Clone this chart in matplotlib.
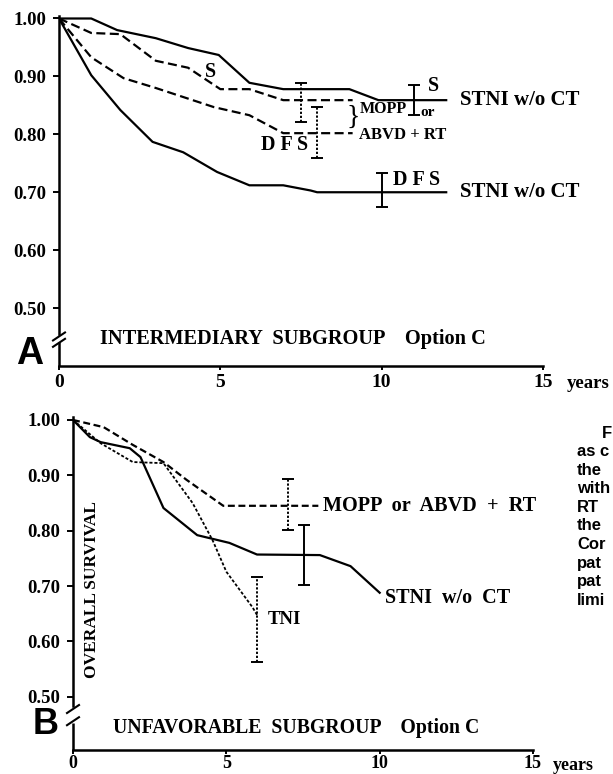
import matplotlib
matplotlib.use('Agg')
import matplotlib.pyplot as plt
from matplotlib.lines import Line2D
from matplotlib.transforms import IdentityTransform

plt.rcParams['lines.scale_dashes'] = False
SERIF = 'Liberation Serif'
SANS = 'Liberation Sans'

# ---------------- data: panel A (intermediary subgroup) ----------------
a_surv_stni_x = [0, 1.0, 1.8, 3.0, 4.0, 4.95, 5.9, 6.95, 9.0, 9.9, 12.0]
a_surv_stni_y = [1.00, 1.00, 0.980, 0.966, 0.949, 0.937, 0.889, 0.878, 0.878, 0.859, 0.859]
a_surv_mopp_x = [0, 1.0, 1.9, 3.0, 4.0, 5.0, 5.9, 6.95, 9.1]
a_surv_mopp_y = [1.00, 0.975, 0.973, 0.927, 0.915, 0.878, 0.878, 0.859, 0.859]
a_dfs_mopp_x = [0, 1.0, 2.0, 3.0, 4.8, 5.9, 6.95, 9.1]
a_dfs_mopp_y = [1.00, 0.933, 0.897, 0.880, 0.847, 0.833, 0.802, 0.802]
a_dfs_stni_x = [0, 1.0, 1.9, 2.9, 3.85, 4.9, 5.9, 6.95, 7.8, 8.0, 12.0]
a_dfs_stni_y = [1.00, 0.902, 0.842, 0.787, 0.769, 0.735, 0.712, 0.712, 0.703, 0.700, 0.700]
# error bars: x, centre, low, high
a_err_surv_stni = (11.0, 0.859, 0.833, 0.885)
a_err_surv_mopp = (7.5, 0.859, 0.822, 0.889)
a_err_dfs_mopp = (8.0, 0.802, 0.759, 0.847)
a_err_dfs_stni = (10.0, 0.700, 0.674, 0.733)

# ---------------- data: panel B (unfavorable subgroup) ----------------
b_mopp_x = [0, 1.0, 1.95, 2.95, 3.7, 4.9, 8.0]
b_mopp_y = [1.00, 0.987, 0.955, 0.924, 0.892, 0.845, 0.845]
b_stni_x = [0, 0.55, 0.9, 1.85, 2.2, 2.95, 4.05, 5.1, 6.0, 8.05, 9.05, 10.0]
b_stni_y = [1.00, 0.969, 0.960, 0.949, 0.933, 0.841, 0.792, 0.778, 0.757, 0.756, 0.736, 0.688]
b_tni_x = [0, 0.9, 1.95, 2.95, 3.9, 4.55, 5.0, 5.85, 6.0]
b_tni_y = [1.00, 0.958, 0.924, 0.922, 0.850, 0.783, 0.726, 0.662, 0.648]
b_err_mopp = (7.0, 0.845, 0.801, 0.893)
b_err_stni = (7.53, 0.756, 0.702, 0.810)
b_err_tni = (6.0, 0.648, 0.563, 0.717)

x_ticks = [0, 5, 10, 15]
x_ticklabels = ['0', '5', '10', '15']
y_ticks = [0.50, 0.60, 0.70, 0.80, 0.90, 1.00]
y_ticklabels = ['0.50', '0.60', '0.70', '0.80', '0.90', '1.00']

caption_lines = ['F', 'as c', 'the', 'with', 'RT', 'the', 'Cor', 'pat', 'pat', 'limi']

W, H = 613, 774
fig = plt.figure(figsize=(W / 100, H / 100), dpi=100)

def fx(px):
    return px / W

def fy(py):
    return 1 - py / H

LW = 1.6
DASH = (0, (6.5, 3.2))
DASHB = (0, (5.0, 2.6))
DOT = (0, (2.2, 1.4))
ERRDOT = (0, (1.6, 1.3))


def setup_axes(ax, ylim_low, brk_hi, brk_lo, xfs, xpad):
    ax.set_xlim(0, 15)
    ax.set_ylim(ylim_low, 1.005)
    for s in ['top', 'right']:
        ax.spines[s].set_visible(False)
    ax.spines['left'].set_bounds(brk_hi, 1.005)
    ax.spines['left'].set_linewidth(1.8)
    ax.spines['bottom'].set_linewidth(1.8)
    ax.set_xticks(x_ticks)
    ax.set_xticklabels(x_ticklabels, fontfamily=SERIF, fontweight='bold', fontsize=xfs)
    ax.set_yticks(y_ticks)
    ax.set_yticklabels(y_ticklabels, fontfamily=SERIF, fontweight='bold', fontsize=13.5)
    ax.tick_params(axis='y', direction='out', length=4, width=1.4, pad=5)
    ax.tick_params(axis='x', direction='out', length=3, width=1.4, pad=xpad)
    # lower piece of the broken y axis
    t = ax.get_yaxis_transform()
    ax.plot([0, 0], [ylim_low, brk_lo], color='black', lw=1.8, transform=t,
            clip_on=False, solid_capstyle='butt')


def slash(ax, yval, dx=6, dy=4):
    fig.canvas.draw()
    px, py = ax.transData.transform((0, yval))
    fig.add_artist(Line2D([px - dx, px + dx], [py - dy, py + dy], color='black',
                          lw=1.5, transform=IdentityTransform()))


def errbar(ax, e, ls):
    x, c, lo, hi = e
    ax.errorbar([x], [c], yerr=[[c - lo], [hi - c]], fmt='none', ecolor='black',
                elinewidth=1.4, capsize=4, capthick=1.4, linestyle=ls)
    eb = ax.containers[-1]
    for lc in eb[2]:
        lc.set_linestyle(ls)


# ---------------- panel A ----------------
axA = fig.add_axes([fx(59), fy(366), fx(543) - fx(59), fy(15.6) - fy(366)])
setup_axes(axA, 0.40, 0.456, 0.442, 14, 3)
axA.plot(a_surv_stni_x, a_surv_stni_y, color='black', lw=LW)
axA.plot(a_dfs_stni_x, a_dfs_stni_y, color='black', lw=LW)
axA.plot(a_surv_mopp_x, a_surv_mopp_y, color='black', lw=LW, linestyle=DASH)
axA.plot(a_dfs_mopp_x, a_dfs_mopp_y, color='black', lw=LW, linestyle=DASH)
errbar(axA, a_err_surv_stni, '-')
errbar(axA, a_err_dfs_stni, '-')
errbar(axA, a_err_surv_mopp, ERRDOT)
errbar(axA, a_err_dfs_mopp, ERRDOT)

tkw = dict(fontfamily=SERIF, fontweight='bold', color='black')
axA.text(4.71, 0.907, 'S', ha='center', va='center', fontsize=14.5, **tkw)
axA.text(11.6, 0.884, 'S', ha='center', va='center', fontsize=14.5, **tkw)
axA.text(11.43, 0.838, 'or', ha='center', va='center', fontsize=11, **tkw)
axA.text(9.33, 0.843, 'MOPP', ha='left', va='center', fontsize=11.5, **tkw)
axA.text(9.3, 0.798, 'ABVD + RT', ha='left', va='center', fontsize=12, **tkw)
axA.text(9.12, 0.830, '}', ha='center', va='center', fontsize=20,
         fontfamily=SERIF, color='black')
axA.text(7.0, 0.781, 'D F S', ha='center', va='center', fontsize=14.5, **tkw)
axA.text(11.07, 0.721, 'D F S', ha='center', va='center', fontsize=14.5, **tkw)
axA.text(12.43, 0.859, 'STNI w/o CT', ha='left', va='center', fontsize=15, **tkw)
axA.text(12.43, 0.700, 'STNI w/o CT', ha='left', va='center', fontsize=15, **tkw)
fig.text(fx(100), fy(339), 'INTERMEDIARY  SUBGROUP    Option C', ha='left', va='center',
         fontsize=14.7, **tkw)
fig.text(fx(567), fy(384), 'years', ha='left', va='center', fontsize=13.5, **tkw)
fig.text(fx(30), fy(354), 'A', ha='center', va='center', fontsize=27,
         fontfamily=SANS, fontweight='bold')

# ---------------- panel B ----------------
axB = fig.add_axes([fx(73), fy(750), fx(533) - fx(73), fy(417.2) - fy(750)])
setup_axes(axB, 0.404, 0.483, 0.452, 13, 0.5)
axB.plot(b_stni_x, b_stni_y, color='black', lw=LW)
axB.plot(b_mopp_x, b_mopp_y, color='black', lw=LW, linestyle=DASHB)
axB.plot(b_tni_x, b_tni_y, color='black', lw=1.3, linestyle=DOT)
errbar(axB, b_err_stni, '-')
errbar(axB, b_err_mopp, ERRDOT)
errbar(axB, b_err_tni, ERRDOT)

axB.text(8.15, 0.845, 'MOPP  or  ABVD  +  RT', ha='left', va='center', fontsize=14.6, **tkw)
axB.text(10.17, 0.679, 'STNI  w/o  CT', ha='left', va='center', fontsize=14.5, **tkw)
axB.text(6.36, 0.639, 'TNI', ha='left', va='center', fontsize=13.5, **tkw)
fig.text(fx(92), fy(590), 'OVERALL SURVIVAL', ha='center', va='center', rotation=90,
         fontsize=12.5, **tkw)
fig.text(fx(113), fy(728), 'UNFAVORABLE  SUBGROUP    Option C', ha='left', va='center',
         fontsize=14.2, **tkw)
fig.text(fx(553), fy(765), 'years', ha='left', va='center', fontsize=13, **tkw)
fig.text(fx(46), fy(724), 'B', ha='center', va='center', fontsize=26,
         fontfamily=SANS, fontweight='bold')

# caption fragment at right edge
cap_y0 = 433
for i, s in enumerate(caption_lines):
    xx = 602 if i == 0 else 577
    fig.text(fx(xx), fy(cap_y0 + i * 18.6), s, ha='left', va='center', fontsize=12,
             fontfamily=SANS, fontweight='bold')

# axis breaks
slash(axA, 0.451)
slash(axA, 0.440)
slash(axB, 0.478)
slash(axB, 0.456)

fig.savefig('out.png', dpi=100)
